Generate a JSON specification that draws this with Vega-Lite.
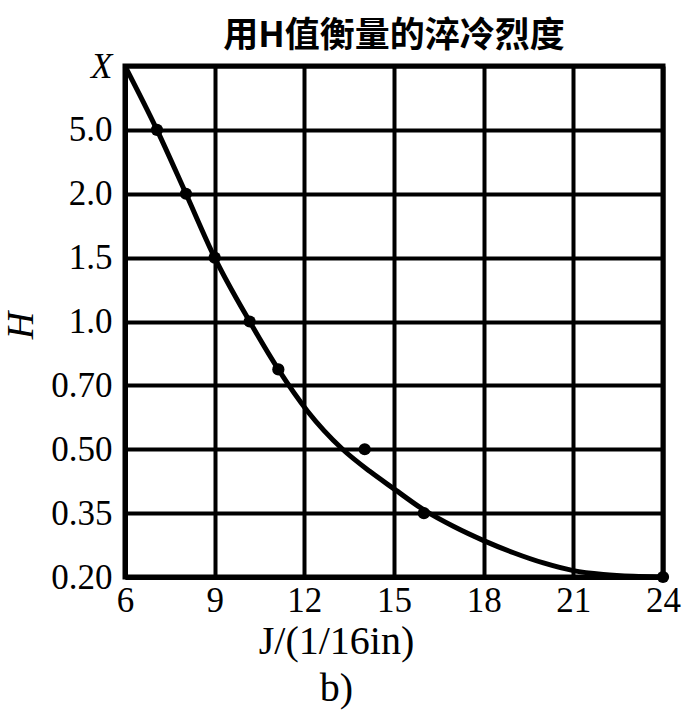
{
  "$schema": "https://vega.github.io/schema/vega-lite/v6.json",
  "width": 538,
  "height": 511,
  "autosize": "none",
  "padding": {"left": 125, "top": 66, "right": 29, "bottom": 146},
  "background": "white",
  "title": {
    "text": "用H值衡量的淬冷烈度",
    "font": "Noto Sans CJK SC",
    "fontSize": 35,
    "fontWeight": "bold",
    "color": "black",
    "anchor": "middle",
    "offset": -5
  },
  "config": {
    "view": {"stroke": "black", "strokeWidth": 5},
    "axis": {
      "grid": true,
      "gridColor": "black",
      "gridWidth": 4,
      "gridOpacity": 1,
      "domain": true,
      "domainColor": "black",
      "domainWidth": 5,
      "ticks": false,
      "labelFont": "Liberation Serif",
      "labelFontSize": 35,
      "labelColor": "black",
      "labelOverlap": false,
      "labelFlush": false,
      "titleFont": "Liberation Serif",
      "titleFontWeight": "normal",
      "titleColor": "black"
    }
  },
  "layer": [
    {
      "data": {
        "values": [
          {"J": 6.0, "level": 8.0},
          {"J": 7.07, "level": 7.0},
          {"J": 8.04, "level": 6.0},
          {"J": 9.0, "level": 5.0},
          {"J": 10.17, "level": 4.0},
          {"J": 11.13, "level": 3.25},
          {"J": 12.1, "level": 2.6},
          {"J": 13.28, "level": 2.0},
          {"J": 14.2, "level": 1.65},
          {"J": 15.0, "level": 1.38},
          {"J": 16.0, "level": 1.05},
          {"J": 17.0, "level": 0.79},
          {"J": 18.0, "level": 0.57},
          {"J": 19.0, "level": 0.38},
          {"J": 20.0, "level": 0.22},
          {"J": 21.0, "level": 0.1},
          {"J": 22.0, "level": 0.04},
          {"J": 23.0, "level": 0.01},
          {"J": 24.0, "level": 0.0}
        ]
      },
      "mark": {"type": "line", "color": "black", "strokeWidth": 5, "interpolate": "monotone"},
      "encoding": {
        "x": {
          "field": "J",
          "type": "quantitative",
          "scale": {"domain": [6, 24], "nice": false, "zero": false},
          "axis": {
            "values": [6, 9, 12, 15, 18, 21, 24],
            "labelPadding": 6,
            "title": ["J/(1/16in)", "b)"],
            "titleFontSize": 40,
            "titleLineHeight": 47,
            "titleX": 211,
            "titleY": 44,
            "titleBaseline": "top"
          }
        },
        "y": {
          "field": "level",
          "type": "quantitative",
          "scale": {"domain": [0, 8], "nice": false, "zero": false},
          "axis": {
            "values": [0, 1, 2, 3, 4, 5, 6, 7, 8],
            "labelPadding": 13,
            "labelExpr": "['0.20','0.35','0.50','0.70','1.0','1.5','2.0','5.0','X'][datum.value]",
            "labelFontStyle": {"condition": {"test": "datum.value == 8", "value": "italic"}, "value": "normal"},
            "title": "H",
            "titleFontStyle": "italic",
            "titleFontSize": 38,
            "titleBaseline": "middle",
            "titleX": -104,
            "titleY": 259
          }
        }
      }
    },
    {
      "data": {
        "values": [
          {"J": 7.07, "level": 7.0},
          {"J": 8.04, "level": 6.0},
          {"J": 9.0, "level": 5.0},
          {"J": 10.17, "level": 4.0},
          {"J": 11.13, "level": 3.25},
          {"J": 14.02, "level": 2.0},
          {"J": 16.0, "level": 1.0},
          {"J": 24.0, "level": 0.0}
        ]
      },
      "mark": {"type": "circle", "color": "black", "size": 150, "opacity": 1},
      "encoding": {
        "x": {"field": "J", "type": "quantitative"},
        "y": {"field": "level", "type": "quantitative"}
      }
    }
  ]
}
